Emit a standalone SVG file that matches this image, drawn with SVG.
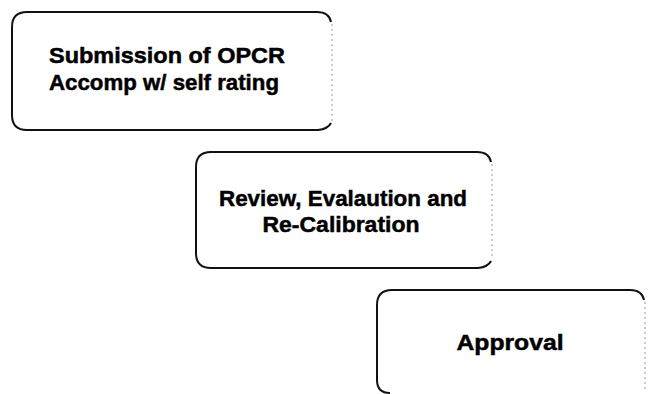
<svg xmlns="http://www.w3.org/2000/svg" width="648" height="394" viewBox="0 0 648 394">
  <style>
    .frame { fill: #ffffff; stroke: #111111; stroke-width: 2; }
    .edge-faint { fill: none; stroke: #9a9a9a; stroke-width: 1; stroke-dasharray: 2 3; }
    .label { font-family: "Liberation Sans", Arial, sans-serif; font-weight: bold; font-size: 22.5px; fill: #000000; stroke: #000000; stroke-width: 0.5; text-anchor: middle; }
  </style>
  <rect width="648" height="394" fill="#ffffff"/>

  <!-- step 1 -->
  <g id="submission">
    <path class="frame" d="M 331 22 Q 329 12 317 12 L 27 12 Q 12 12 12 27 L 12 115 Q 12 130 27 130 L 318 130 Q 328 129 331 123"/>
    <path class="edge-faint" d="M 332 24 L 332 121"/>
    <text class="label" x="167" y="63" textLength="236" lengthAdjust="spacingAndGlyphs">Submission of OPCR</text>
    <text class="label" x="164" y="90" textLength="230" lengthAdjust="spacingAndGlyphs">Accomp w/ self rating</text>
  </g>

  <!-- step 2 -->
  <g id="review">
    <path class="frame" d="M 491 162 Q 489 152 477 152 L 211 152 Q 196 152 196 167 L 196 253 Q 196 268 211 268 L 478 268 Q 488 267 491 261"/>
    <path class="edge-faint" d="M 492 164 L 492 259"/>
    <text class="label" x="343" y="206" textLength="248" lengthAdjust="spacingAndGlyphs">Review, Evalaution and</text>
    <text class="label" x="341" y="232" textLength="157" lengthAdjust="spacingAndGlyphs">Re-Calibration</text>
  </g>

  <!-- step 3 -->
  <g id="approval">
    <path class="frame" d="M 644 300 Q 642 290 630 290 L 392 290 Q 377 290 377 305 L 377 380 Q 377 393 390 393"/>
    <path class="edge-faint" d="M 645 302 L 645 390"/>
    <text class="label" x="510" y="350" textLength="107" lengthAdjust="spacingAndGlyphs">Approval</text>
  </g>

  <!-- no connectors between the steps -->
  <g id="connectors"></g>
</svg>
